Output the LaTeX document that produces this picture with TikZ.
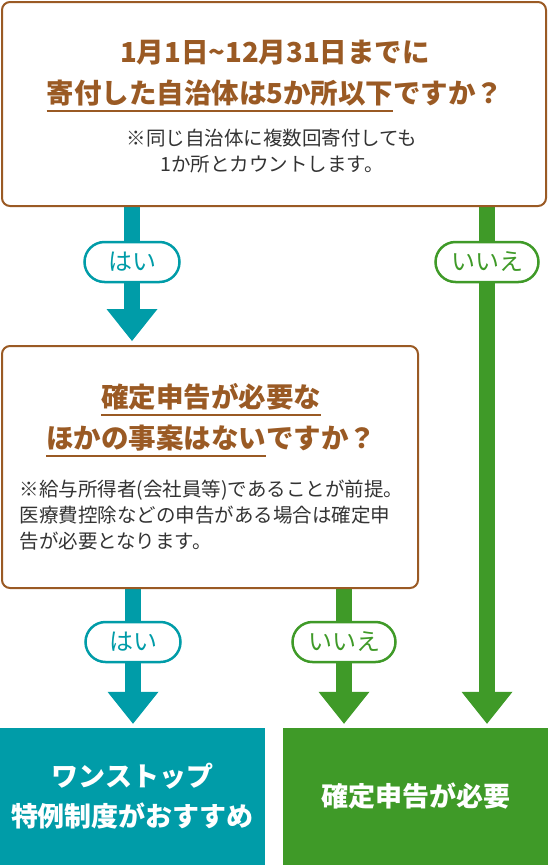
\documentclass[tikz,border=0pt]{standalone}
\usepackage{fontspec}
\setmainfont{Noto Sans CJK JP}
\usetikzlibrary{arrows.meta}
\usetikzlibrary{backgrounds}
\definecolor{qbrown}{HTML}{9A5A24}
\definecolor{yesteal}{HTML}{009CA8}
\definecolor{nogreen}{HTML}{3F9A28}
\definecolor{notegray}{HTML}{333333}
% underline part of a title line
\newcommand\brline[1]{\setbox0\hbox{#1}\rlap{\smash{\color{qbrown}\rule[-9pt]{\wd0}{2pt}}}\box0}

\begin{document}
\begin{tikzpicture}[x=1pt, y=-1pt,
    qbox/.style={draw=qbrown, line width=2pt, rounded corners=8pt, fill=white},
    qtitle/.style={text=qbrown, align=center, font=\fontsize{27.5}{41}\selectfont\bfseries},
    qnote/.style={text=notegray, font=\fontsize{19.5}{26}\selectfont},
    pill/.style={fill=white, line width=2.5pt, rounded corners=20pt,
      minimum height=40pt, inner sep=0pt, font=\fontsize{24}{24}\selectfont},
    yespill/.style={pill, draw=yesteal, text=yesteal, minimum width=95pt},
    nopill/.style={pill, draw=nogreen, text=nogreen, minimum width=103pt},
    flow/.style={line width=16pt, shorten >=4pt,
      -{Triangle[width=51pt, length=32pt, line width=0pt]}},
    result/.style={text=white, align=center, inner sep=0pt,
      minimum height=137pt, font=\fontsize{27}{40}\selectfont\bfseries}]
  \useasboundingbox (0,0) rectangle (548,865);

  % questions
  \node[qbox, minimum width=544pt, minimum height=204pt] (q1) at (274,104) {};
  \node[qtitle] (q1title) at (275,73)
    {1月1日{\char`\~}12月31日までに\\\brline{寄付した自治体は5か所以下}ですか？};
  \node[qnote, align=center] (q1note) at (272,151)
    {※同じ自治体に複数回寄付しても\\1か所とカウントします。};

  \node[qbox, minimum width=416pt, minimum height=242pt] (q2) at (210,467) {};
  \node[qtitle] (q2title) at (211,417)
    {\brline{確定申告が必要な}\\\brline{ほかの事案はない}ですか？};
  \node[qnote, align=left, anchor=west] (q2note) at (16,515)
    {※給与所得者(会社員等)であることが前提。\\医療費控除などの申告がある場合は確定申\\告が必要となります。};

  % results
  \node[result, fill=yesteal, minimum width=265pt] (onestop) at (132.5,796.5)
    {ワンストップ\\特例制度がおすすめ};
  \node[result, fill=nogreen, minimum width=265pt] (done) at (415.5,796.5)
    {確定申告が必要};

  % answers
  \node[yespill] (yes1) at (132,262) {はい};
  \node[nopill] (no1) at (487,262) {いいえ};
  \node[yespill] (yes2) at (133,642) {はい};
  \node[nopill] (no2) at (344,642) {いいえ};

  \begin{scope}[on background layer]
    \draw[flow, yesteal] (q1.south -| yes1) -- (q2.north -| yes1);
    \draw[flow, nogreen] (q1.south -| no1) -- (done.north -| no1);
    \draw[flow, yesteal] (q2.south -| yes2) -- (onestop.north -| yes2);
    \draw[flow, nogreen] (q2.south -| no2) -- (done.north -| no2);
  \end{scope}
\end{tikzpicture}
\end{document}
